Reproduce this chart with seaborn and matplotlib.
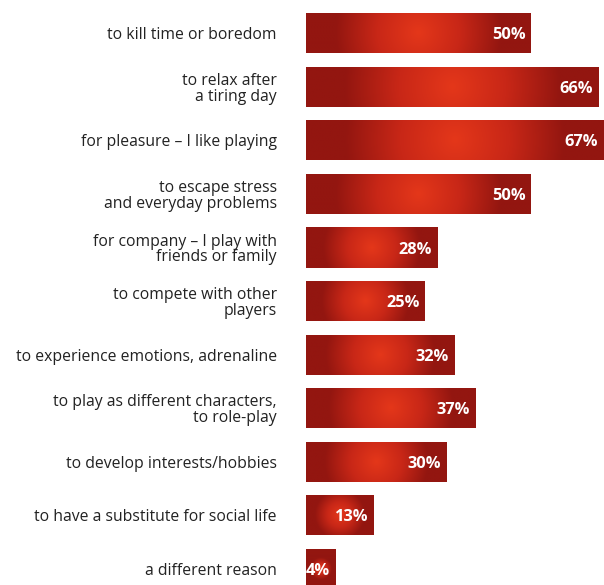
import numpy as np
import pandas as pd
import matplotlib
matplotlib.use("Agg")
import matplotlib.pyplot as plt
import seaborn as sns
from matplotlib.colors import LinearSegmentedColormap

# data
reasons = [
    "to kill time or boredom",
    "to relax after\na tiring day",
    "for pleasure \u2013 I like playing",
    "to escape stress\nand everyday problems",
    "for company \u2013 I play with\nfriends or family",
    "to compete with other\nplayers",
    "to experience emotions, adrenaline",
    "to play as different characters,\nto role-play",
    "to develop interests/hobbies",
    "to have a substitute for social life",
    "a different reason",
]
shares = [50, 66, 67, 50, 28, 25, 32, 37, 30, 13, 4]
value_labels = [f"{v}%" for v in shares]

df = pd.DataFrame({"reason": reasons, "share": shares})

# bars in the original start a little below zero
x_base, x_max = -3, 67.2

sns.set_theme(style="white")
plt.rcParams["font.family"] = ["Open Sans", "DejaVu Sans"]

fig = plt.figure(figsize=(6.04, 5.85), dpi=100)
ax = fig.add_axes([306 / 604, 0, 298 / 604, 1])

sns.barplot(data=df, x="share", y="reason", orient="h", color="#b51c14",
            width=0.75, linewidth=0, ax=ax)
for patch, v in zip(ax.patches, shares):
    patch.set_x(x_base)
    patch.set_width(v - x_base)

ax.set_xlim(x_base, x_max)
ax.set_ylim(10.3, -0.62)
ax.set_xlabel("")
ax.set_ylabel("")
ax.set_xticks([])
sns.despine(ax=ax, left=True, bottom=True)
ax.tick_params(axis="y", length=0, pad=21, labelsize=11.3, labelcolor="#222222")
for lbl in ax.get_yticklabels():
    lbl.set_linespacing(0.98)

# radial gradient fill on each bar
cmap = LinearSegmentedColormap.from_list("bar", ["#e4371a", "#c82717", "#931610"])
fig.canvas.draw()
for patch in list(ax.patches):
    x0, y0 = patch.get_x(), patch.get_y()
    w, h = patch.get_width(), patch.get_height()
    (px0, py0), (px1, py1) = ax.transData.transform([(x0, y0), (x0 + w, y0 + h)])
    wpx, hpx = abs(px1 - px0), abs(py1 - py0)
    xx, yy = np.meshgrid(np.linspace(-wpx / 2, wpx / 2, 300),
                         np.linspace(-hpx / 2, hpx / 2, 60))
    r = np.sqrt(xx ** 2 + yy ** 2) / (0.37 * wpx)
    r = np.clip(r, 0, 1)
    im = ax.imshow(r, cmap=cmap, vmin=0, vmax=1, aspect="auto",
                   extent=[x0, x0 + w, y0 + h, y0], interpolation="bilinear",
                   zorder=patch.get_zorder() + 0.1)
    im.set_clip_path(patch)

ax.set_xlim(x_base, x_max)
ax.set_ylim(10.3, -0.62)

for i, (v, txt) in enumerate(zip(shares, value_labels)):
    ax.annotate(txt, xy=(v, i), xytext=(-4, 0), textcoords="offset points",
                ha="right", va="center_baseline", color="white", fontsize=11.8,
                fontweight="bold", zorder=5)

fig.savefig("out.png", dpi=100)
